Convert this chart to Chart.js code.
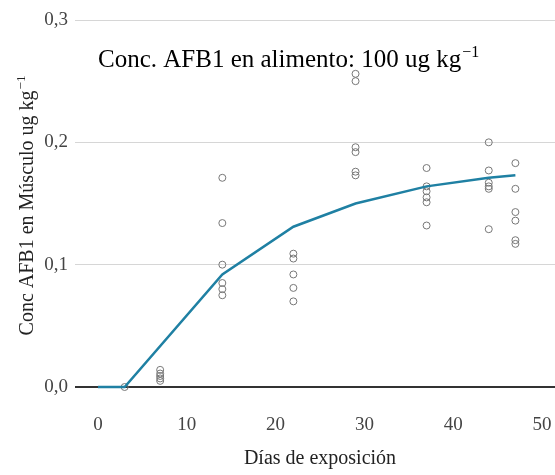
<!DOCTYPE html>
<html>
<head>
<meta charset="utf-8">
<script src="https://cdn.jsdelivr.net/npm/chart.js@4"></script>
<style>
  html, body { margin: 0; padding: 0; background: #fff; }
  #wrap { width: 555px; height: 475px; position: relative; }
</style>
</head>
<body>
<div id="wrap"><canvas id="grafico"></canvas></div>
<script>
// curva ajustada
const diasCurva = [0, 3, 14, 22, 29, 37, 44, 47];
const concCurva = [0, 0, 0.092, 0.131, 0.150, 0.164, 0.171, 0.173];

// observaciones
const diasObs = [3,
  7, 7, 7, 7, 7,
  14, 14, 14, 14, 14, 14,
  22, 22, 22, 22, 22,
  29, 29, 29, 29, 29, 29,
  37, 37, 37, 37, 37, 37,
  44, 44, 44, 44, 44, 44,
  47, 47, 47, 47, 47, 47];
const concObs = [0,
  0.014, 0.011, 0.009, 0.007, 0.005,
  0.171, 0.134, 0.100, 0.085, 0.080, 0.075,
  0.109, 0.105, 0.092, 0.081, 0.070,
  0.256, 0.250, 0.196, 0.192, 0.176, 0.173,
  0.179, 0.164, 0.160, 0.155, 0.151, 0.132,
  0.200, 0.177, 0.167, 0.164, 0.162, 0.129,
  0.183, 0.162, 0.143, 0.136, 0.120, 0.117];

const ticksX = [0, 10, 20, 30, 40, 50];

const fuente = "'Liberation Serif', 'Times New Roman', serif";

function textoSup(ctx, base, sup, x, y, size, align) {
  ctx.font = size + "px " + fuente;
  const wb = ctx.measureText(base).width;
  ctx.font = Math.round(size * 0.65) + "px " + fuente;
  const ws = ctx.measureText(sup).width;
  let x0 = x;
  if (align === 'center') x0 = x - (wb + ws) / 2;
  ctx.textAlign = 'left';
  ctx.textBaseline = 'alphabetic';
  ctx.font = size + "px " + fuente;
  ctx.fillText(base, x0, y);
  ctx.font = Math.round(size * 0.65) + "px " + fuente;
  ctx.fillText(sup, x0 + wb + 1, y - size * 0.42);
}

const textos = {
  id: 'textos',
  afterDraw(chart) {
    const ctx = chart.ctx;
    ctx.save();
    ctx.fillStyle = '#000';
    textoSup(ctx, 'Conc. AFB1 en alimento: 100 ug kg', '\u22121', 98, 67, 25, 'left');

    ctx.fillStyle = '#222';
    ctx.font = "20px " + fuente;
    ctx.textAlign = 'center';
    ctx.textBaseline = 'middle';
    ctx.fillText('Días de exposición', 320, 459);

    ctx.translate(33, 206);
    ctx.rotate(-Math.PI / 2);
    textoSup(ctx, 'Conc AFB1 en Músculo ug kg', '\u22121', 0, 0, 20, 'center');
    ctx.restore();
  }
};

new Chart(document.getElementById('grafico'), {
  type: 'scatter',
  data: {
    datasets: [
      {
        label: 'Ajuste',
        data: diasCurva.map((d, i) => ({ x: d, y: concCurva[i] })),
        showLine: true,
        borderColor: '#1f80a3',
        borderWidth: 2.5,
        pointRadius: 0,
        tension: 0,
        order: 1
      },
      {
        label: 'Observado',
        data: diasObs.map((d, i) => ({ x: d, y: concObs[i] })),
        showLine: false,
        pointRadius: 3.5,
        pointBackgroundColor: 'rgba(0,0,0,0)',
        pointBorderColor: '#777',
        pointBorderWidth: 1,
        order: 2
      }
    ]
  },
  options: {
    responsive: true,
    maintainAspectRatio: false,
    animation: false,
    clip: false,
    layout: { autoPadding: false, padding: { top: 20, right: 0, left: 0, bottom: 0 } },
    plugins: { legend: { display: false }, tooltip: { enabled: false } },
    scales: {
      x: {
        type: 'linear',
        min: -2.59,
        max: 51.46,
        afterBuildTicks: s => { s.ticks = ticksX.map(v => ({ value: v })); },
        afterFit: s => { s.height = 88; s.paddingRight = 0; s.paddingLeft = 0; },
        grid: { display: false, drawTicks: false },
        border: { display: false },
        ticks: { color: '#444', padding: 27, font: { family: fuente, size: 19 } }
      },
      y: {
        min: 0,
        max: 0.3,
        afterFit: s => { s.width = 75; s.paddingTop = 0; s.paddingBottom = 0; },
        grid: {
          drawTicks: false,
          color: c => c.tick.value === 0 ? '#333' : '#d6d6d6',
          lineWidth: c => c.tick.value === 0 ? 2 : 1
        },
        border: { display: false },
        ticks: {
          stepSize: 0.1,
          color: '#444',
          padding: 7,
          font: { family: fuente, size: 19 },
          callback: v => v.toFixed(1).replace('.', ',')
        }
      }
    }
  },
  plugins: [textos]
});
</script>
</body>
</html>
